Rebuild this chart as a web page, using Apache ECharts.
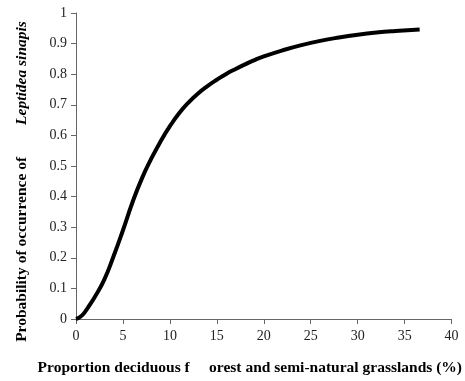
<!DOCTYPE html>
<html>
<head>
<meta charset="utf-8">
<script src="https://cdn.jsdelivr.net/npm/echarts@6/dist/echarts.min.js"></script>
<style>
  html, body { margin: 0; padding: 0; background: #fff; }
  #chart { width: 465px; height: 381px; }
</style>
</head>
<body>
<div id="chart"></div>
<script>
// proportion of deciduous forest and semi-natural grasslands (%)
const proportion = [0, 0.5, 1, 1.5, 2, 3, 4, 5, 6, 7, 8, 9, 10, 11, 12, 13, 14, 15, 16, 17, 18, 19, 20, 22, 24, 26, 28, 30, 32, 34, 36.6]
// probability of occurrence of Leptidea sinapis
const probability = [0, 0.008, 0.025, 0.048, 0.072, 0.128, 0.205, 0.29, 0.38, 0.458, 0.523, 0.58, 0.63, 0.673, 0.708, 0.737, 0.761, 0.782, 0.801, 0.817, 0.832, 0.846, 0.858, 0.878, 0.895, 0.909, 0.92, 0.929, 0.936, 0.941, 0.946]

const xTicks = { min: 0, max: 40, interval: 5 }
const yTicks = { min: 0, max: 1, interval: 0.1 }

const serif = "'Liberation Serif', 'Times New Roman', serif"

const chart = echarts.init(document.getElementById('chart'))

const option = {
  animation: false,
  grid: {
    left: 76,
    right: 12,
    top: 13,
    bottom: 58
  },
  xAxis: {
    type: 'value',
    min: xTicks.min,
    max: xTicks.max,
    interval: xTicks.interval,
    name: 'Proportion deciduous f     orest and semi-natural grasslands (%)',
    nameLocation: 'middle',
    nameGap: 41,
    nameTextStyle: {
      fontFamily: serif,
      fontWeight: 'bold',
      fontSize: 15.5,
      color: '#000',
      padding: [0, 28, 0, 0]
    },
    splitLine: { show: false },
    axisLine: { lineStyle: { color: '#666', width: 1 } },
    axisTick: { show: true, length: 5, lineStyle: { color: '#666' } },
    axisLabel: {
      margin: 10,
      fontFamily: serif,
      fontSize: 14,
      color: '#222'
    }
  },
  yAxis: {
    type: 'value',
    min: yTicks.min,
    max: yTicks.max,
    interval: yTicks.interval,
    name: '{a|Probability of occurrence of}{b|Leptidea sinapis}',
    nameLocation: 'middle',
    nameRotate: 90,
    nameGap: 46,
    nameTextStyle: {
      padding: [0, 31, 0, 0],
      rich: {
        a: {
          fontFamily: serif,
          fontWeight: 'bold',
          fontSize: 15.5,
          color: '#000'
        },
        b: {
          fontFamily: serif,
          fontWeight: 'bold',
          fontStyle: 'italic',
          fontSize: 15.5,
          color: '#000',
          padding: [0, 0, 0, 32]
        }
      }
    },
    splitLine: { show: false },
    axisLine: { show: true, lineStyle: { color: '#666', width: 1 } },
    axisTick: { show: true, length: 5, lineStyle: { color: '#666' } },
    axisLabel: {
      margin: 9,
      fontFamily: serif,
      fontSize: 14,
      color: '#222'
    }
  },
  series: [
    {
      type: 'line',
      data: proportion.map((x, i) => [x, probability[i]]),
      smooth: true,
      showSymbol: false,
      lineStyle: { color: '#000', width: 4 }
    }
  ]
}

chart.setOption(option)
</script>
</body>
</html>
